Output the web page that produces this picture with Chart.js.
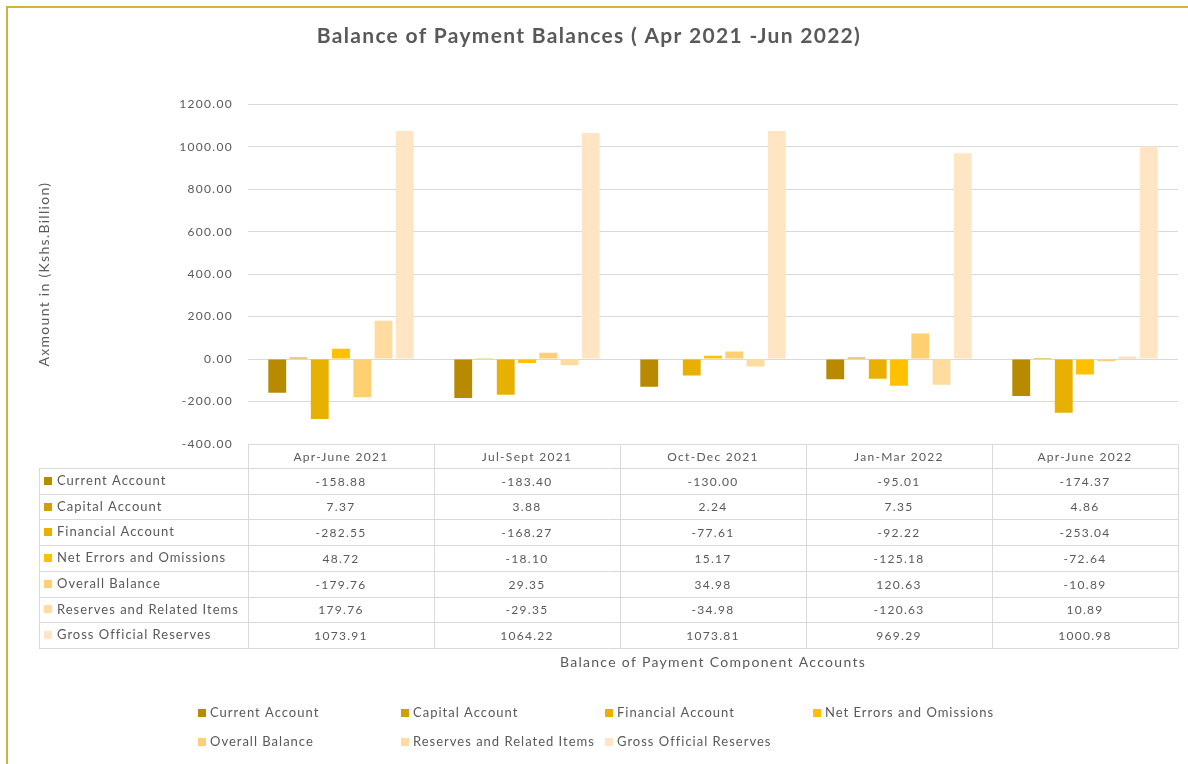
<!DOCTYPE html>
<html>
<head>
<meta charset="utf-8">
<title>Balance of Payment Balances</title>
<script src="https://cdn.jsdelivr.net/npm/chart.js@4.4.0/dist/chart.umd.min.js"></script>
<style>
  html, body { margin: 0; padding: 0; background: #fff; }
  #wrap { position: relative; width: 1188px; height: 764px; }
  #wrap:after {
    content: ''; position: absolute; left: 6px; top: 6px; right: 0; bottom: 0;
    border-left: 2px solid #D6AF3C; border-top: 2px solid #D6AF3C; pointer-events: none;
  }
</style>
</head>
<body>
<div id="wrap"><canvas id="bop" width="1188" height="764"></canvas></div>
<script>
// ==== data (Kshs. Billion) ====
const categories       = ['Apr-June 2021', 'Jul-Sept 2021', 'Oct-Dec 2021', 'Jan-Mar 2022', 'Apr-June 2022'];
const currentAccount   = [-158.88, -183.40, -130.00, -95.01, -174.37];
const capitalAccount   = [7.37, 3.88, 2.24, 7.35, 4.86];
const financialAccount = [-282.55, -168.27, -77.61, -92.22, -253.04];
const netErrors        = [48.72, -18.10, 15.17, -125.18, -72.64];
const overallBalance   = [-179.76, 29.35, 34.98, 120.63, -10.89];
const reservesItems    = [179.76, -29.35, -34.98, -120.63, 10.89];
const grossReserves    = [1073.91, 1064.22, 1073.81, 969.29, 1000.98];
const yMin = -400, yMax = 1200, yStep = 200;

const FONT = 'Lato, "Open Sans", sans-serif';
const GREY = '#595959';
const LINE = '#D9D9D9';

const series = [
  { label: 'Current Account',            data: currentAccount,   color: '#B88A00' },
  { label: 'Capital Account',            data: capitalAccount,   color: '#D0A000' },
  { label: 'Financial Account',          data: financialAccount, color: '#E8B000' },
  { label: 'Net Errors and Omissions',   data: netErrors,        color: '#FFC000' },
  { label: 'Overall Balance',            data: overallBalance,   color: '#FFD071' },
  { label: 'Reserves and Related Items', data: reservesItems,    color: '#FFDBA0' },
  { label: 'Gross Official Reserves',    data: grossReserves,    color: '#FFE5C3' }
];

// wider letter spacing, closer to the original office font
const spacing = {
  id: 'spacing',
  beforeDraw(chart) { chart.ctx.letterSpacing = '1.3px'; }
};

// data table under the plot (Excel style)
const dataTable = {
  id: 'dataTable',
  afterDraw(chart) {
    const { ctx, chartArea } = chart;
    const ds = chart.data.datasets;
    const labels = chart.data.labels;
    const colW = (chartArea.right - chartArea.left) / labels.length;
    const top = chartArea.bottom;
    const headH = 24, rowH = 25.7, labelL = 39;
    const bodyTop = top + headH;
    const bottom = bodyTop + rowH * ds.length;
    const px = v => Math.round(v) + 0.5;

    ctx.save();
    ctx.strokeStyle = LINE;
    ctx.lineWidth = 1;
    ctx.beginPath();
    // horizontal lines
    ctx.moveTo(chartArea.left, px(top)); ctx.lineTo(chartArea.right, px(top));
    for (let r = 0; r <= ds.length; r++) {
      const y = px(bodyTop + r * rowH);
      ctx.moveTo(labelL, y); ctx.lineTo(chartArea.right, y);
    }
    // vertical lines
    ctx.moveTo(px(labelL), px(bodyTop)); ctx.lineTo(px(labelL), px(bottom));
    for (let c = 0; c <= labels.length; c++) {
      const x = px(chartArea.left + c * colW);
      ctx.moveTo(x, px(top)); ctx.lineTo(x, px(bottom));
    }
    ctx.stroke();

    ctx.fillStyle = GREY;
    ctx.textBaseline = 'middle';
    ctx.textAlign = 'center';
    ctx.letterSpacing = '1.3px';
    ctx.font = '12px ' + FONT;
    labels.forEach((l, c) => {
      ctx.fillText(l, chartArea.left + (c + 0.5) * colW, top + headH / 2 + 1);
    });
    ds.forEach((d, r) => {
      const yc = bodyTop + (r + 0.5) * rowH;
      d.data.forEach((v, c) => {
        ctx.fillStyle = GREY;
        ctx.textAlign = 'center';
        ctx.letterSpacing = '1.3px';
        ctx.font = '12px ' + FONT;
        ctx.fillText(v.toFixed(2), chartArea.left + (c + 0.5) * colW, yc + 1);
      });
      ctx.fillStyle = d.backgroundColor;
      ctx.fillRect(labelL + 5, Math.round(yc - 4), 8, 8);
      ctx.fillStyle = GREY;
      ctx.textAlign = 'left';
      ctx.letterSpacing = '1px';
      ctx.font = '13px ' + FONT;
      ctx.fillText(d.label, labelL + 18, yc);
    });
    ctx.restore();
  }
};

// legend on a fixed grid (4 columns), like the Excel one
const gridLegend = {
  id: 'gridLegend',
  afterDraw(chart) {
    const { ctx } = chart;
    const cols = [198, 401, 605, 813];
    const rows = [713, 742];
    ctx.save();
    ctx.font = '13px ' + FONT;
    ctx.letterSpacing = '1px';
    ctx.textBaseline = 'middle';
    ctx.textAlign = 'left';
    chart.data.datasets.forEach((d, i) => {
      const x = cols[i % 4], y = rows[Math.floor(i / 4)];
      ctx.fillStyle = d.backgroundColor;
      ctx.fillRect(x, y - 4, 8, 8);
      ctx.fillStyle = GREY;
      ctx.fillText(d.label, x + 12, y);
    });
    ctx.restore();
  }
};

new Chart(document.getElementById('bop'), {
  type: 'bar',
  data: {
    labels: categories,
    datasets: series.map(s => ({
      label: s.label,
      data: s.data,
      backgroundColor: s.color,
      borderWidth: 0,
      categoryPercentage: 0.8,
      barPercentage: 0.84
    }))
  },
  options: {
    responsive: false,
    animation: false,
    layout: { padding: { left: 0, right: 10, top: 0, bottom: 93 } },
    plugins: {
      legend: { display: false },
      tooltip: { enabled: false },
      title: {
        display: true,
        text: 'Balance of Payment Balances ( Apr 2021 -Jun 2022)',
        color: GREY,
        font: { family: FONT, size: 21, weight: 'bold' },
        padding: { top: 24, bottom: 55 }
      }
    },
    scales: {
      x: {
        grid: { display: false },
        border: { display: false },
        ticks: { display: false },
        title: {
          display: true,
          text: 'Balance of Payment Component Accounts',
          color: GREY,
          font: { family: FONT, size: 14 },
          padding: { top: 0, bottom: 0 }
        },
        afterFit(scale) { scale.height = 227; }
      },
      y: {
        min: yMin,
        max: yMax,
        border: { display: false },
        grid: { color: LINE, drawTicks: false },
        ticks: {
          stepSize: yStep,
          padding: 15,
          color: GREY,
          font: { family: FONT, size: 12 },
          callback: v => Number(v).toFixed(2)
        },
        title: {
          display: true,
          text: 'Axmount in (Kshs.Billion)',
          color: GREY,
          font: { family: FONT, size: 14 },
          padding: { top: 36, bottom: 0 }
        },
        afterFit(scale) { scale.width = 248; }
      }
    }
  },
  plugins: [spacing, dataTable, gridLegend]
});
</script>
</body>
</html>
